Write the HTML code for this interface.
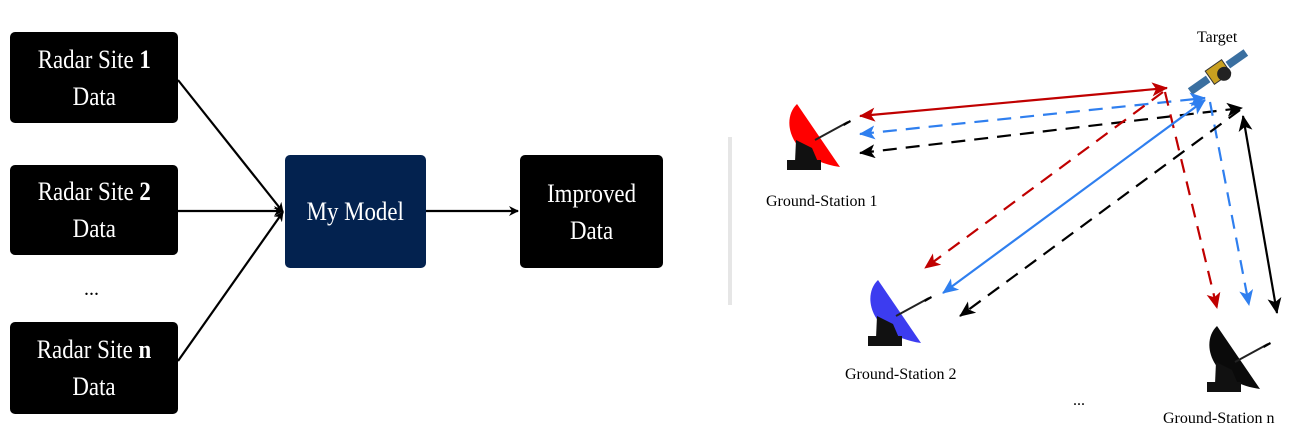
<!DOCTYPE html>
<html><head><meta charset="utf-8"><style>
body{margin:0;width:1309px;height:445px;background:#fff;position:relative;overflow:hidden;font-family:"Liberation Serif",serif}
.b{position:absolute;background:#000;color:#fff;border-radius:5px;display:flex;align-items:center;justify-content:center;text-align:center;font-size:26px;line-height:37px}
.b div{transform:scaleX(0.88);white-space:nowrap}
</style></head><body>
<div class="b" style="left:10px;top:32px;width:168px;height:91px"><div>Radar Site <b>1</b><br>Data</div></div>
<div class="b" style="left:10px;top:165px;width:168px;height:90px"><div>Radar Site <b>2</b><br>Data</div></div>
<div class="b" style="left:10px;top:322px;width:168px;height:92px"><div>Radar Site <b>n</b><br>Data</div></div>
<div class="b" style="left:285px;top:155px;width:141px;height:113px;background:#03224f"><div>My Model</div></div>
<div class="b" style="left:520px;top:155px;width:143px;height:113px"><div>Improved<br>Data</div></div>
<div style="position:absolute;left:84px;top:278px;font-size:20px">...</div>
<div style="position:absolute;left:728px;top:137px;width:4px;height:168px;background:#e6e6e6"></div>
<svg width="1309" height="445" style="position:absolute;left:0;top:0">
<defs>
<marker id="k" markerWidth="10" markerHeight="10" refX="9" refY="5" orient="auto-start-reverse" markerUnits="userSpaceOnUse"><path d="M0,0L10,5L0,10L3,5Z" fill="#000"/></marker>
<marker id="K" markerWidth="16" markerHeight="14" refX="15" refY="7" orient="auto-start-reverse" markerUnits="userSpaceOnUse"><path d="M0,0L16,7L0,14L4,7Z" fill="#000"/></marker>
<marker id="R" markerWidth="16" markerHeight="14" refX="15" refY="7" orient="auto-start-reverse" markerUnits="userSpaceOnUse"><path d="M0,0L16,7L0,14L4,7Z" fill="#c00000"/></marker>
<marker id="B" markerWidth="16" markerHeight="14" refX="15" refY="7" orient="auto-start-reverse" markerUnits="userSpaceOnUse"><path d="M0,0L16,7L0,14L4,7Z" fill="#2f7fef"/></marker>
<g id="dish">
<path d="M797,104 C780,120 790,160 840,167 Z" />
<line x1="815" y1="140" x2="848" y2="122" stroke="#222" stroke-width="2"/>
<path d="M843,124 l7,-4 l1,2 l-7,4Z" fill="#000"/>
<path d="M796,140 L812,148 L818,162 L795,162Z" fill="#111"/>
<rect x="787" y="160" width="34" height="10" fill="#111"/>
</g>
</defs>
<g stroke="#000" stroke-width="2.2" fill="none">
<line x1="178" y1="80" x2="283" y2="212" marker-end="url(#k)"/>
<line x1="178" y1="211" x2="283" y2="211" marker-end="url(#k)"/>
<line x1="178" y1="361" x2="283" y2="212" marker-end="url(#k)"/>
<line x1="426" y1="211" x2="518" y2="211" marker-end="url(#k)"/>
</g>
<use href="#dish" fill="#ff0000"/>
<use href="#dish" fill="#3c3cf0" transform="translate(81,176)"/>
<use href="#dish" fill="#0a0a0a" transform="translate(420,222)"/>
<g transform="translate(1218,72) rotate(-35)">
<rect x="-34" y="-4" width="22" height="8" fill="#3a6fa0"/>
<rect x="12" y="-4" width="22" height="8" fill="#3a6fa0"/>
<rect x="-10" y="-8" width="20" height="16" fill="#c9a020" stroke="#333"/>
<circle cx="4" cy="5" r="7" fill="#222"/>
</g>
<g fill="none" stroke-width="2.2">
<line x1="860" y1="116" x2="1167" y2="88" stroke="#c00000" marker-start="url(#R)" marker-end="url(#R)"/>
<line x1="860" y1="134" x2="1205" y2="98" stroke="#2f7fef" stroke-dasharray="14,9" marker-start="url(#B)" marker-end="url(#B)"/>
<line x1="860" y1="153" x2="1242" y2="108" stroke="#000" stroke-dasharray="14,9" marker-start="url(#K)" marker-end="url(#K)"/>
<line x1="1163" y1="92" x2="925" y2="268" stroke="#c00000" stroke-dasharray="14,9" marker-end="url(#R)"/>
<line x1="1165" y1="92" x2="1217" y2="308" stroke="#c00000" stroke-dasharray="14,9" marker-end="url(#R)"/>
<line x1="1205" y1="100" x2="943" y2="293" stroke="#2f7fef" marker-start="url(#B)" marker-end="url(#B)"/>
<line x1="1210" y1="102" x2="1249" y2="305" stroke="#2f7fef" stroke-dasharray="14,9" marker-end="url(#B)"/>
<line x1="1240" y1="110" x2="960" y2="316" stroke="#000" stroke-dasharray="14,9" marker-end="url(#K)"/>
<line x1="1243" y1="116" x2="1277" y2="313" stroke="#000" marker-start="url(#K)" marker-end="url(#K)"/>
</g>
<g font-family="Liberation Serif, serif" font-size="16" fill="#000">
<text x="1197" y="42">Target</text>
<text x="766" y="206">Ground-Station 1</text>
<text x="845" y="379">Ground-Station 2</text>
<text x="1163" y="423">Ground-Station n</text>
<text x="1073" y="405">...</text>
</g>
</svg>
</body></html>
